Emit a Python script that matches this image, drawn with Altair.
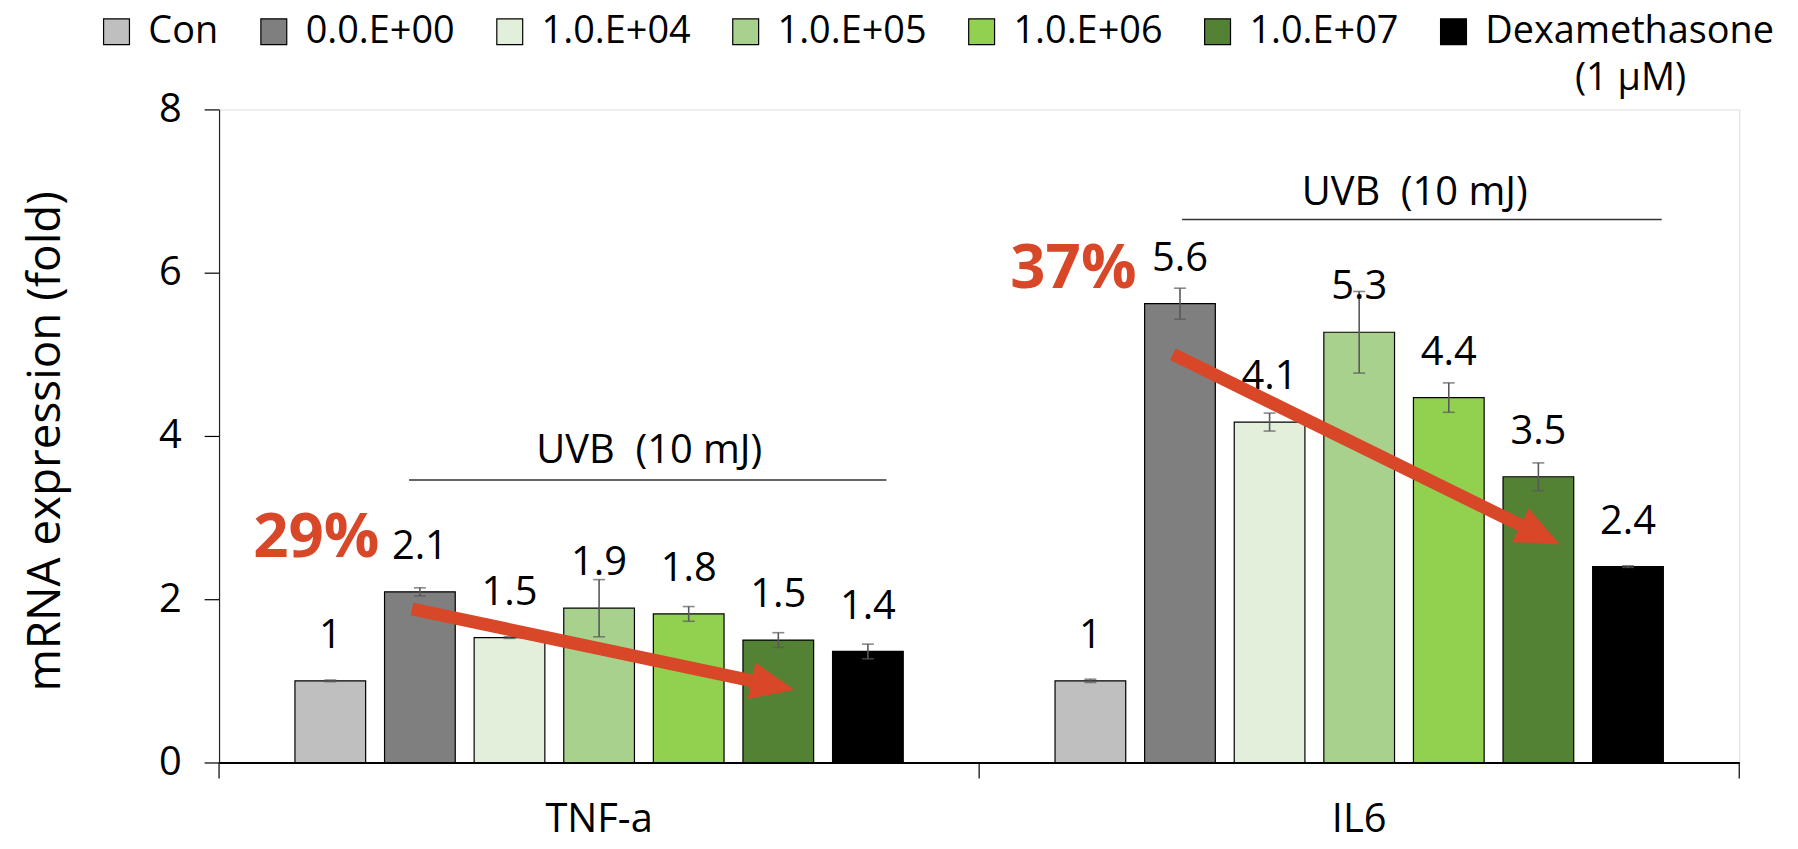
import math
import altair as alt
import pandas as pd

# ---------------- data ----------------
genes = ["TNF-a", "IL6"]
series = ["Con", "0.0.E+00", "1.0.E+04", "1.0.E+05", "1.0.E+06", "1.0.E+07", "Dexamethasone"]
colors = ["#BFBFBF", "#7F7F7F", "#E2EFDA", "#A9D18E", "#92D050", "#548235", "#000000"]

tnf_values = [1.00, 2.09, 1.53, 1.89, 1.82, 1.50, 1.36]
tnf_errors = [0.01, 0.05, 0.01, 0.35, 0.09, 0.09, 0.09]
tnf_labels = ["1", "2.1", "1.5", "1.9", "1.8", "1.5", "1.4"]

il6_values = [1.00, 5.62, 4.17, 5.27, 4.47, 3.50, 2.40]
il6_errors = [0.02, 0.19, 0.11, 0.50, 0.18, 0.17, 0.01]
il6_labels = ["1", "5.6", "4.1", "5.3", "4.4", "3.5", "2.4"]

y_ticks = [0, 2, 4, 6, 8]

# annotations (x in "group units": 0..2 across the two categories)
pct_text = ["29%", "37%"]
pct_x = [0.128, 1.124]
pct_y = [2.75, 6.05]

uvb_text = ["UVB\u00a0 (10 mJ)", "UVB\u00a0 (10 mJ)"]
uvb_text_x = [0.566, 1.573]
uvb_text_y = [3.81, 6.97]
uvb_line_x0 = [0.250, 1.267]
uvb_line_x1 = [0.878, 1.898]
uvb_line_y = [3.46, 6.65]

arrow_x0 = [0.254, 1.255]
arrow_y0 = [1.88, 5.00]
arrow_x1 = [0.757, 1.764]
arrow_y1 = [0.89, 2.67]

group_edges = [0, 1, 2]

# ---------------- layout / style ----------------
W, H = 1527, 656
BAND = W / 2
YMAX = 8
FONT = "Open Sans"
RED = "#D84727"
FS = 40

rows = []
for g, vals, errs, labs in [("TNF-a", tnf_values, tnf_errors, tnf_labels),
                            ("IL6", il6_values, il6_errors, il6_labels)]:
    for s, v, e, l in zip(series, vals, errs, labs):
        rows.append({"gene": g, "series": s, "value": v, "lo": v - e, "hi": v + e, "label": l})
df = pd.DataFrame(rows)

x_enc = alt.X("gene:N", sort=genes, scale=alt.Scale(paddingInner=0, paddingOuter=0),
              axis=alt.Axis(title=None, labelAngle=0, ticks=False, tickSize=0, labelPadding=57,
                            labelBaseline="middle", labelFontSize=FS, labelFont=FONT,
                            labelColor="black", domainColor="black", domainWidth=2))
xo_enc = alt.XOffset("series:N", sort=series,
                     scale=alt.Scale(domain=series, paddingInner=0.211, paddingOuter=0.847))
y_scale = alt.Scale(domain=[0, YMAX], nice=False)
Y_AXIS = alt.Axis(values=y_ticks, grid=False, tickSize=15, tickColor="black",
                  tickWidth=1.2, domainColor="#222222", domainWidth=1.2,
                  labelFontSize=FS, labelFont=FONT, labelColor="black", labelPadding=23,
                  title="mRNA expression (fold)", titleFontSize=46, titleFont=FONT,
                  titleFontWeight="normal", titleColor="black",
                  titleX=-174, titleY=333, titleAlign="center", titleBaseline="middle")


def yq(field):
    return alt.Y(field, scale=y_scale, axis=Y_AXIS)


base = alt.Chart(df)

bars = base.mark_bar(stroke="black", strokeWidth=1.2).encode(
    x=x_enc, xOffset=xo_enc,
    y=yq("value:Q"),
    color=alt.Color("series:N", sort=series,
                    scale=alt.Scale(domain=series, range=colors),
                    legend=alt.Legend(orient="none", legendX=-122, legendY=-97,
                                      direction="horizontal", title=None, padding=0,
                                      symbolType="square", symbolSize=676,
                                      symbolStrokeColor="black", symbolStrokeWidth=1.2,
                                      labelFontSize=38, labelFont=FONT, labelColor="black",
                                      labelLimit=600, labelOffset=13, columnPadding=36)),
)

err_rule = base.mark_rule(color="#595959", strokeWidth=1.6).encode(
    x=x_enc, xOffset=xo_enc, y=yq("lo:Q"), y2="hi:Q")
err_cap_hi = base.mark_tick(color="#595959", thickness=1.6, size=12).encode(
    x=x_enc, xOffset=xo_enc, y=yq("hi:Q"))
err_cap_lo = base.mark_tick(color="#595959", thickness=1.6, size=12).encode(
    x=x_enc, xOffset=xo_enc, y=yq("lo:Q"))

labels = base.mark_text(fontSize=FS, font=FONT, color="black", baseline="middle",
                        align="center", dy=-45).encode(
    x=x_enc, xOffset=xo_enc, y=yq("value:Q"), text="label:N")

main = alt.layer(bars, err_rule, err_cap_hi, err_cap_lo, labels)

# ---------------- annotation layer (independent x in group units) ----------------
xq = alt.Scale(domain=[0, 2], nice=False, zero=False)

edge_df = pd.DataFrame({"x": group_edges})
edge_ticks = alt.Chart(edge_df).mark_rule(color="black", strokeWidth=1.2).encode(
    x=alt.X("x:Q", scale=xq, axis=None), y=alt.value(H), y2=alt.value(H + 16))

pct_df = pd.DataFrame({"t": pct_text, "x": pct_x, "y": pct_y})
pct = alt.Chart(pct_df).mark_text(fontSize=62, font=FONT, fontWeight="bold", color=RED,
                                  baseline="middle", align="center").encode(
    x=alt.X("x:Q", scale=xq, axis=None), y=yq("y:Q"), text="t:N")

uvb_df = pd.DataFrame({"t": uvb_text, "x": uvb_text_x, "y": uvb_text_y,
                       "x0": uvb_line_x0, "x1": uvb_line_x1, "ly": uvb_line_y})
uvb_txt = alt.Chart(uvb_df).mark_text(fontSize=FS, font=FONT, color="black",
                                      baseline="middle", align="center").encode(
    x=alt.X("x:Q", scale=xq, axis=None), y=yq("y:Q"), text="t:N")
uvb_line = alt.Chart(uvb_df).mark_rule(color="#333333", strokeWidth=1.5).encode(
    x=alt.X("x0:Q", scale=xq, axis=None), x2="x1:Q", y=yq("ly:Q"))

# arrows: shaft + head, geometry derived from the endpoints
HEAD = 44.0
shaft_rows, head_rows = [], []
for x0, y0, x1, y1 in zip(arrow_x0, arrow_y0, arrow_x1, arrow_y1):
    p0 = (x0 * BAND, (YMAX - y0) * H / YMAX)
    p1 = (x1 * BAND, (YMAX - y1) * H / YMAX)
    dx, dy = p1[0] - p0[0], p1[1] - p0[1]
    ln = math.hypot(dx, dy)
    ux, uy = dx / ln, dy / ln
    se = (p1[0] - ux * HEAD * 0.7, p1[1] - uy * HEAD * 0.7)
    hc = (p1[0] - ux * HEAD / 2, p1[1] - uy * HEAD / 2)
    shaft_rows.append({"x0": x0, "y0": y0, "x1": se[0] / BAND, "y1": YMAX - se[1] * YMAX / H})
    head_rows.append({"x": hc[0] / BAND, "y": YMAX - hc[1] * YMAX / H,
                      "ang": math.degrees(math.atan2(uy, ux)) % 360})

shaft = alt.Chart(pd.DataFrame(shaft_rows)).mark_rule(color=RED, strokeWidth=13, strokeCap="butt").encode(
    x=alt.X("x0:Q", scale=xq, axis=None), x2="x1:Q", y=yq("y0:Q"), y2="y1:Q")
head = alt.Chart(pd.DataFrame(head_rows)).mark_point(
    shape="M-1,-0.85L1,0L-1,0.85Z", filled=True, size=HEAD * HEAD, color=RED,
    opacity=1, strokeWidth=0).encode(
    x=alt.X("x:Q", scale=xq, axis=None), y=yq("y:Q"),
    angle=alt.Angle("ang:Q", scale=None))

um_df = pd.DataFrame({"t": ["(1 µM)"], "x": [1.857]})
um = alt.Chart(um_df).mark_text(fontSize=38, font=FONT, color="black",
                                baseline="middle", align="center").encode(
    x=alt.X("x:Q", scale=xq, axis=None), y=alt.value(-30), text="t:N")

annot = alt.layer(edge_ticks, uvb_line, uvb_txt, shaft, head, pct, um)

chart = alt.layer(main, annot).resolve_scale(x="independent").properties(
    width=W, height=H,
    autosize=alt.AutoSizeParams(type="none"),
    padding={"left": 212, "top": 100, "right": 51, "bottom": 77},
).configure_view(stroke=None).configure(background="white")

chart.save("out.html", embed_options={"renderer": "svg", "actions": False})
